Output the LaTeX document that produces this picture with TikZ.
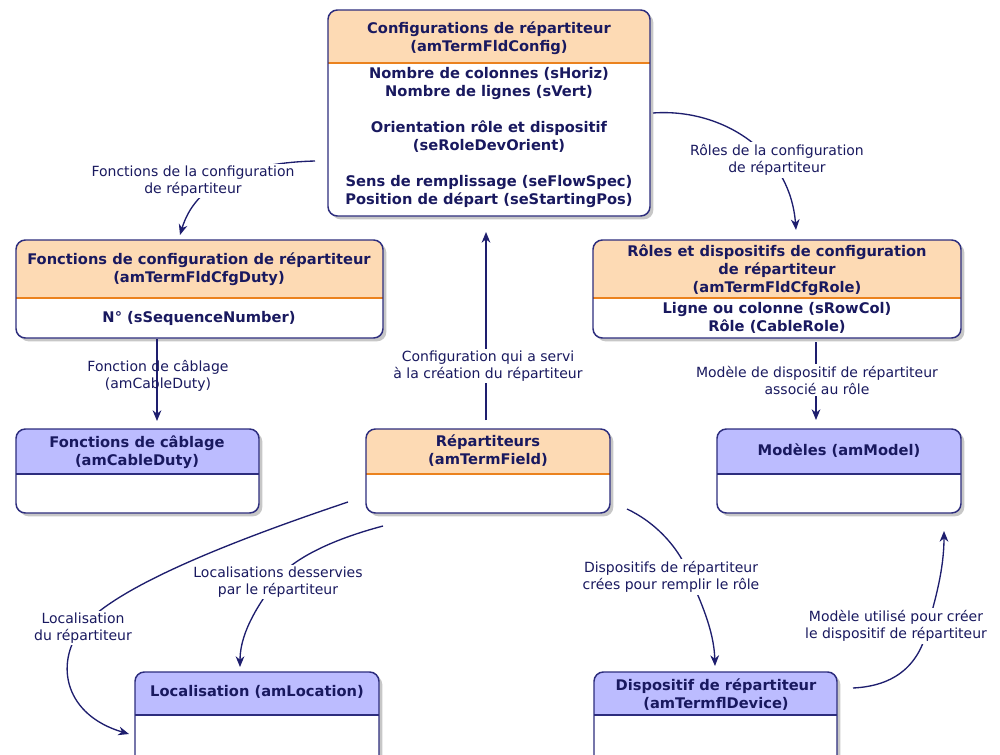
\documentclass[tikz,border=0pt]{standalone}
\usepackage{fontspec}
\setmainfont{DejaVu Sans}
\usetikzlibrary{arrows.meta,shadows,fit}
\definecolor{ink}{RGB}{25,25,95}
\definecolor{navy}{RGB}{45,45,125}
\definecolor{hdrO}{RGB}{253,218,180}
\definecolor{lineO}{RGB}{235,130,30}
\definecolor{hdrB}{RGB}{188,188,255}
\definecolor{wire}{RGB}{30,30,110}
\tikzset{
  box/.style n args={3}{draw=navy, line width=1.1pt, fill=white, rounded corners=7pt, inner sep=0pt,
    drop shadow={shadow xshift=2.5pt, shadow yshift=-2.5pt, fill=black!40, opacity=0.55},
    path picture={
      \fill[#1, sharp corners] (path picture bounding box.north west) rectangle ([yshift=-#3]path picture bounding box.north east);
      \draw[#2, line width=1.1pt, sharp corners] ([yshift=-#3]path picture bounding box.north west) -- ([yshift=-#3]path picture bounding box.north east);
    }},
  htext/.style={text=ink, font=\bfseries\fontsize{11}{13.5}\selectfont, align=center, inner sep=0pt},
  lbl/.style={text=ink, font=\fontsize{10.5}{12.75}\selectfont, align=center, fill=white, inner sep=1.5pt},
  lblclear/.style={lbl, fill=none},
  wireline/.style={draw=wire, line width=1pt, -{Stealth[length=8pt,width=6.5pt,inset=2.5pt]}},
}
\begin{document}
\begin{tikzpicture}[x=0.75pt,y=-0.75pt]
\useasboundingbox (0,0) rectangle (1000,754);
\clip (0,0) rectangle (1000,754);
\fill[white] (0,0) rectangle (1000,754);

% boxes
\node[box={hdrO}{lineO}{39.75pt}, fit={(328,10) (650,216)}] (cfg) {};
\node[box={hdrO}{lineO}{43.5pt}, fit={(16,240) (383,338)}] (duty) {};
\node[box={hdrO}{lineO}{43.5pt}, fit={(593,240) (961,338)}] (role) {};
\node[box={hdrB}{navy}{33.75pt}, fit={(16,429) (259,513)}] (cable) {};
\node[box={hdrO}{lineO}{33.75pt}, fit={(366,429) (610,513)}] (field) {};
\node[box={hdrB}{navy}{33.75pt}, fit={(717,429) (961,513)}] (model) {};
\node[box={hdrB}{navy}{32.25pt}, fit={(135,672) (379,775)}] (loc) {};
\node[box={hdrB}{navy}{32.25pt}, fit={(594,672) (837,775)}] (dev) {};

% box texts
\node[htext] (cfgH) at (489,38) {Configurations de répartiteur\\(amTermFldConfig)};
\node[htext] (cfgB) at (489,138) {Nombre de colonnes (sHoriz)\\Nombre de lignes (sVert)\\[13.5pt]Orientation rôle et dispositif\\(seRoleDevOrient)\\[13.5pt]Sens de remplissage (seFlowSpec)\\Position de départ (seStartingPos)};
\node[htext] (dutyH) at (199,269) {Fonctions de configuration de répartiteur\\(amTermFldCfgDuty)};
\node[htext] (dutyB) at (199,318) {N° (sSequenceNumber)};
\node[htext] (roleH) at (777,270) {Rôles et dispositifs de configuration\\de répartiteur\\(amTermFldCfgRole)};
\node[htext] (roleB) at (777,318) {Ligne ou colonne (sRowCol)\\Rôle (CableRole)};
\node[htext] (cableH) at (137,452) {Fonctions de câblage\\(amCableDuty)};
\node[htext] (fieldH) at (488,451) {Répartiteurs\\(amTermField)};
\node[htext] (modelH) at (839,451) {Modèles (amModel)};
\node[htext] (locH) at (257,692) {Localisation (amLocation)};
\node[htext] (devH) at (716,695) {Dispositif de répartiteur\\(amTermflDevice)};

% connector end points
\coordinate (c1s) at (315,161);  \coordinate (c1e) at (180,235);
\coordinate (c2s) at (653,113);  \coordinate (c2e) at (796,230);
\coordinate (c3s) at (157,339);  \coordinate (c3e) at (157,421);
\coordinate (c4s) at (486,420);  \coordinate (c4e) at (486,232);
\coordinate (c5s) at (816,342);  \coordinate (c5e) at (816,420);
\coordinate (c6s) at (348,502);  \coordinate (c6e) at (129,734);
\coordinate (c7s) at (383,526);  \coordinate (c7e) at (240,667);
\coordinate (c8s) at (627,509);  \coordinate (c8e) at (715,666);
\coordinate (c9s) at (853,688);  \coordinate (c9e) at (944,531);

% connectors
\draw[wireline] (c1s) .. controls (240,163) and (195,185) .. (c1e);
\node[lbl] (l1) at (193,181) {Fonctions de la configuration\\de répartiteur};

\draw[wireline] (c2s) .. controls (720,108) and (790,150) .. (c2e);
\node[lbl] (l2) at (777,160) {Rôles de la configuration\\de répartiteur};

\draw[wireline] (c3s) -- (c3e);
\node[lblclear] (l3) at (158,376) {Fonction de câblage\\(amCableDuty)};

\draw[wireline] (c4s) -- (c4e);
\node[lbl] (l4) at (488,366) {Configuration qui a servi\\à la création du répartiteur};

\draw[wireline] (c5s) -- (c5e);
\node[lbl] (l5) at (817,380) {Modèle de dispositif de répartiteur\\associé au rôle};

\draw[wireline] (c6s) .. controls (220,545) and (110,590) .. (80,630) .. controls (55,665) and (65,715) .. (c6e);
\node[lbl] (l6) at (83,628) {Localisation\\du répartiteur};

\draw[wireline] (c7s) .. controls (330,540) and (290,560) .. (275,582) .. controls (262,600) and (240,630) .. (c7e);
\node[lbl] (l7) at (278,582) {Localisations desservies\\par le répartiteur};

\draw[wireline] (c8s) .. controls (655,522) and (680,548) .. (690,577) .. controls (700,600) and (714,630) .. (c8e);
\node[lbl] (l8) at (671,577) {Dispositifs de répartiteur\\crées pour remplir le rôle};

\draw[wireline] (c9s) .. controls (895,686) and (920,665) .. (928,626) .. controls (935,600) and (944,570) .. (c9e);
\node[lbl] (l9) at (896,626) {Modèle utilisé pour créer\\le dispositif de répartiteur};
\end{tikzpicture}
\end{document}
